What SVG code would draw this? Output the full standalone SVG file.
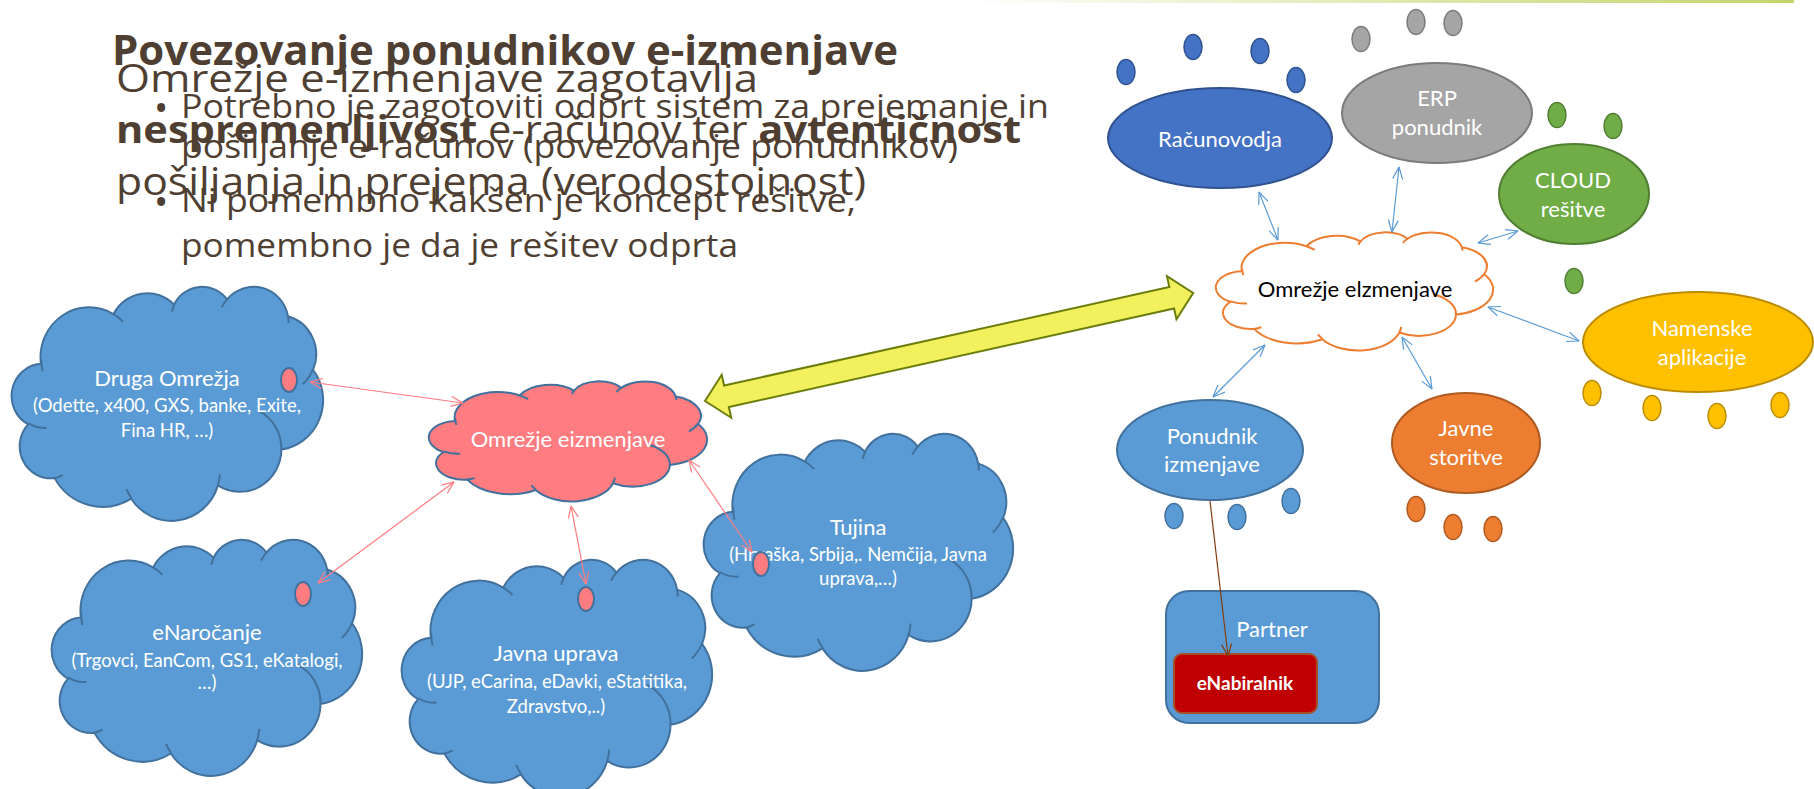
<svg xmlns="http://www.w3.org/2000/svg" xmlns:xlink="http://www.w3.org/1999/xlink" width="1814" height="789" viewBox="0 0 1814 789">
<style>
.t{font-family:"Open Sans","DejaVu Sans",sans-serif;fill:#4f3f33}
.lb{font-family:Lato,"Liberation Sans",sans-serif;fill:#fff;text-anchor:middle}
.l21{font-size:22px}
.l17{font-size:18.5px}
.bc{fill:#5b9bd5;stroke:#41719c;stroke-width:2}
.ci{fill:none;stroke:#41719c;stroke-width:2}
.pk{fill:#ff7c80;stroke:#41719c;stroke-width:2}
.cb{stroke:#5b9bd5;stroke-width:1.2;fill:none;marker-start:url(#ab);marker-end:url(#ab)}
.cp{stroke:#ff7c80;stroke-width:1.2;fill:none;marker-start:url(#ap);marker-end:url(#ap)}
</style>
<defs>
<linearGradient id="tg" x1="0" x2="1" y1="0" y2="0">
<stop offset="0" stop-color="#ffffff"/>
<stop offset="1" stop-color="#c3d46a"/>
</linearGradient>
<path id="cl" vector-effect="non-scaling-stroke" d="M3900 14370 A6753 9190 0 0 1 14003 5200 A5333 7267 0 0 1 22454 3431 A4365 5945 0 0 1 29831 2480 A4857 6595 0 0 1 38316 5576 A5333 7273 0 0 1 41816 15460 A6775 9220 0 0 1 37403 30203 A5785 7867 0 0 1 28553 36812 A6752 9215 0 0 1 16477 39263 A7720 10543 0 0 1 5801 35469 A4360 5918 0 0 1 2108 25550 A4345 5945 0 0 1 3900 14370 Z"/>
<path id="cli" vector-effect="non-scaling-stroke" fill="none" d="M4693 26177 A4345 5945 0 0 1 2159 25380 M6928 34899 A4360 5918 0 0 1 5801 35469 M16478 39090 A6752 9215 0 0 1 15809 37522 M28827 34751 A6752 9215 0 0 1 28553 36812 M34129 22954 A5785 7867 0 0 1 37403 30203 M41798 15354 A5333 7273 0 0 1 40366 18139 M38324 5426 A4857 6595 0 0 1 38393 6839 M29078 3952 A4857 6595 0 0 1 29831 2480 M22141 4720 A4365 5945 0 0 1 22454 3431 M14000 5192 A6753 9190 0 0 1 15305 6550 M4127 15789 A6753 9190 0 0 1 3945 13488"/>
<marker id="ab" markerUnits="userSpaceOnUse" markerWidth="13" markerHeight="11" viewBox="0 0 13 11" refX="12.5" refY="5.5" orient="auto-start-reverse"><path d="M0.5 0.5 L12.5 5.5 L0.5 10.5" fill="none" stroke="#5b9bd5" stroke-width="1.2"/></marker>
<marker id="ap" markerUnits="userSpaceOnUse" markerWidth="13" markerHeight="11" viewBox="0 0 13 11" refX="12.5" refY="5.5" orient="auto-start-reverse"><path d="M0.5 0.5 L12.5 5.5 L0.5 10.5" fill="none" stroke="#ff7c80" stroke-width="1.2"/></marker>
<marker id="abr" markerUnits="userSpaceOnUse" markerWidth="13" markerHeight="11" viewBox="0 0 13 11" refX="12.5" refY="5.5" orient="auto"><path d="M0.5 0.5 L12.5 5.5 L0.5 10.5" fill="none" stroke="#843c0c" stroke-width="1.2"/></marker>
</defs>
<rect x="0" y="0" width="1814" height="789" fill="#ffffff"/>
<rect x="960" y="0" width="834" height="3" fill="url(#tg)"/>

<g id="title-text" class="t">
<text x="112" y="65" font-size="42" font-weight="bold" textLength="786" lengthAdjust="spacingAndGlyphs">Povezovanje ponudnikov e-izmenjave</text>
<text x="116" y="92" font-size="38" textLength="642" lengthAdjust="spacingAndGlyphs">Omrežje e-izmenjave zagotavlja</text>
<text x="154" y="122" font-size="38">•</text>
<text x="181" y="118" font-size="32" textLength="868" lengthAdjust="spacingAndGlyphs">Potrebno je zagotoviti odprt sistem za prejemanje in</text>
<text x="116" y="143" font-size="38" textLength="905" lengthAdjust="spacingAndGlyphs"><tspan font-weight="bold">nespremenljivost</tspan> e-računov ter <tspan font-weight="bold">avtentičnost</tspan></text>
<text x="181" y="158" font-size="32" textLength="777" lengthAdjust="spacingAndGlyphs">pošiljanje e-računov (povezovanje ponudnikov)</text>
<text x="116" y="195" font-size="38" textLength="750" lengthAdjust="spacingAndGlyphs">pošiljanja in prejema (verodostojnost)</text>
<text x="154" y="216" font-size="38">•</text>
<text x="181" y="212" font-size="32" textLength="675" lengthAdjust="spacingAndGlyphs">Ni pomembno kakšen je koncept rešitve,</text>
<text x="181" y="257" font-size="32" textLength="557" lengthAdjust="spacingAndGlyphs">pomembno je da je rešitev odprta</text>
</g>

<g id="druga-omrezja">
<g transform="translate(13,286) scale(0.0071759,0.0054167)"><use href="#cl" class="bc"/><use href="#cli" class="ci"/></g>
<text class="lb l21" x="167" y="386">Druga Omrežja</text>
<text class="lb l17" x="167" y="412">(Odette, x400, GXS, banke, Exite,</text>
<text class="lb l17" x="167" y="437">Fina HR, …)</text>
<ellipse class="pk" cx="289" cy="380" rx="8" ry="12"/>
</g>

<g id="enarocanje">
<g transform="translate(53,539) scale(0.0071528,0.005463)"><use href="#cl" class="bc"/><use href="#cli" class="ci"/></g>
<text class="lb l21" x="207" y="640">eNaročanje</text>
<text class="lb l17" x="207" y="667">(Trgovci, EanCom, GS1, eKatalogi,</text>
<text class="lb l17" x="207" y="689">…)</text>
<ellipse class="pk" cx="303" cy="594" rx="8" ry="12"/>
</g>

<g id="javna-uprava">
<g transform="translate(403,559) scale(0.0071528,0.0054861)"><use href="#cl" class="bc"/><use href="#cli" class="ci"/></g>
<text class="lb l21" x="556" y="661">Javna uprava</text>
<text class="lb l17" x="557" y="688">(UJP, eCarina, eDavki, eStatitika,</text>
<text class="lb l17" x="556" y="713">Zdravstvo,..)</text>
<ellipse class="pk" cx="586" cy="599" rx="8" ry="12"/>
</g>

<g id="tujina">
<g transform="translate(705,433) scale(0.0071296,0.0054861)"><use href="#cl" class="bc"/><use href="#cli" class="ci"/></g>
<text class="lb l21" x="858" y="535">Tujina</text>
<text class="lb l17" x="858" y="561">(Hrvaška, Srbija,. Nemčija, Javna</text>
<text class="lb l17" x="858" y="585">uprava,…)</text>
</g>

<g id="omrezje-eizmenjave">
<g transform="translate(430,381) scale(0.006412,0.0027778)"><use href="#cl" class="pk"/><use href="#cli" class="ci"/></g>
<text class="lb l21" x="568" y="447">Omrežje eizmenjave</text>
</g>

<g id="omrezje-elzmenjave">
<g transform="translate(1217,232) scale(0.0063889,0.0027315)"><use href="#cl" fill="#ffffff" stroke="#ed7d31" stroke-width="2"/><use href="#cli" fill="none" stroke="#ed7d31" stroke-width="2"/></g>
<text class="lb l21" x="1355" y="297" style="fill:#000000">Omrežje elzmenjave</text>
</g>

<g id="racunovodja">
<ellipse cx="1220" cy="138" rx="112" ry="50" fill="#4472c4" stroke="#2f528f" stroke-width="2"/>
<text class="lb l21" x="1220" y="147">Računovodja</text>
<g fill="#4472c4" stroke="#2f528f" stroke-width="1.5">
<ellipse cx="1126" cy="72" rx="9" ry="12.5"/><ellipse cx="1193" cy="47" rx="9" ry="12.5"/><ellipse cx="1260" cy="51" rx="9" ry="12.5"/><ellipse cx="1296" cy="80" rx="9" ry="12.5"/>
</g>
</g>

<g id="erp-ponudnik">
<ellipse cx="1437" cy="113" rx="95" ry="50" fill="#a5a5a5" stroke="#7b7b7b" stroke-width="2"/>
<text class="lb l21" x="1437" y="106">ERP</text>
<text class="lb l21" x="1437" y="135">ponudnik</text>
<g fill="#a5a5a5" stroke="#7b7b7b" stroke-width="1.5">
<ellipse cx="1361" cy="39" rx="9" ry="12.5"/><ellipse cx="1416" cy="22" rx="9" ry="12.5"/><ellipse cx="1453" cy="23" rx="9" ry="12.5"/>
</g>
</g>

<g id="cloud-resitve">
<ellipse cx="1574" cy="194" rx="75" ry="50" fill="#70ad47" stroke="#507e32" stroke-width="2"/>
<text class="lb l21" x="1573" y="188">CLOUD</text>
<text class="lb l21" x="1573" y="217">rešitve</text>
<g fill="#70ad47" stroke="#507e32" stroke-width="1.5">
<ellipse cx="1557" cy="115" rx="9" ry="12.5"/><ellipse cx="1613" cy="126" rx="9" ry="12.5"/><ellipse cx="1574" cy="281" rx="9" ry="12.5"/>
</g>
</g>

<g id="namenske-aplikacije">
<ellipse cx="1698" cy="342" rx="115" ry="50" fill="#ffc000" stroke="#bc8c00" stroke-width="2"/>
<text class="lb l21" x="1702" y="336">Namenske</text>
<text class="lb l21" x="1702" y="365">aplikacije</text>
<g fill="#ffc000" stroke="#bc8c00" stroke-width="1.5">
<ellipse cx="1592" cy="393" rx="9" ry="12.5"/><ellipse cx="1652" cy="408" rx="9" ry="12.5"/><ellipse cx="1717" cy="416" rx="9" ry="12.5"/><ellipse cx="1780" cy="405" rx="9" ry="12.5"/>
</g>
</g>

<g id="ponudnik-izmenjave">
<ellipse cx="1210" cy="450" rx="93" ry="50" fill="#5b9bd5" stroke="#41719c" stroke-width="2"/>
<text class="lb l21" x="1212" y="444">Ponudnik</text>
<text class="lb l21" x="1212" y="472">izmenjave</text>
<g fill="#5b9bd5" stroke="#41719c" stroke-width="1.5">
<ellipse cx="1174" cy="516" rx="9" ry="12.5"/><ellipse cx="1237" cy="517" rx="9" ry="12.5"/><ellipse cx="1291" cy="501" rx="9" ry="12.5"/>
</g>
</g>

<g id="javne-storitve">
<ellipse cx="1466" cy="443" rx="74" ry="50" fill="#ed7d31" stroke="#ae5a21" stroke-width="2"/>
<text class="lb l21" x="1466" y="436">Javne</text>
<text class="lb l21" x="1466" y="465">storitve</text>
<g fill="#ed7d31" stroke="#ae5a21" stroke-width="1.5">
<ellipse cx="1416" cy="509" rx="9" ry="12.5"/><ellipse cx="1453" cy="527" rx="9" ry="12.5"/><ellipse cx="1493" cy="529" rx="9" ry="12.5"/>
</g>
</g>

<g id="partner">
<rect x="1166" y="591" width="213" height="132" rx="23" fill="#5b9bd5" stroke="#41719c" stroke-width="2"/>
<text class="lb l21" x="1272" y="637">Partner</text>
</g>

<g id="enabiralnik">
<rect x="1174" y="654" width="143" height="59" rx="8" fill="#c00000" stroke="#a5502a" stroke-width="2"/>
<text class="lb" x="1245" y="690" font-size="19" font-weight="bold">eNabiralnik</text>
</g>

<g id="connectors">
<polygon points="0,0 22,-22 22,-11 478,-11 478,-22 500,0 478,22 478,11 22,11 22,22" transform="translate(705,401) rotate(-12.48)" fill="#f3f05d" stroke="#6b7d0c" stroke-width="2" stroke-linejoin="miter"/>
<line class="cp" x1="310" y1="382" x2="463" y2="403"/>
<line class="cp" x1="318" y1="583" x2="454" y2="482"/>
<line class="cp" x1="571" y1="506" x2="586" y2="584"/>
<line class="cp" x1="689" y1="460" x2="752" y2="552"/>
<line class="cb" x1="1259" y1="192" x2="1278" y2="240"/>
<line class="cb" x1="1399" y1="167" x2="1392" y2="232"/>
<line class="cb" x1="1518" y1="231" x2="1478" y2="243"/>
<line class="cb" x1="1579" y1="341" x2="1488" y2="307"/>
<line class="cb" x1="1265" y1="345" x2="1213" y2="397"/>
<line class="cb" x1="1402" y1="337" x2="1432" y2="389"/>
<line x1="1210" y1="501" x2="1228" y2="656" stroke="#843c0c" stroke-width="1.2" marker-end="url(#abr)"/>
</g>
<g id="tujina-dot"><ellipse class="pk" cx="761" cy="564" rx="8" ry="12"/></g>
</svg>
